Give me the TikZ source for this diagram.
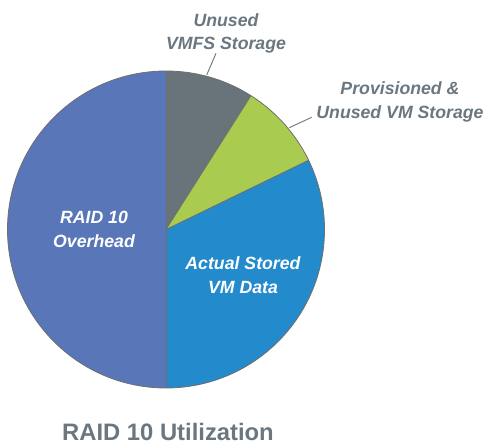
\documentclass[tikz,border=0pt]{standalone}
\usepackage{fontspec}
\setmainfont{Liberation Sans}
\newfontfamily\labelbi{Liberation Sans Bold Italic}
\newfontfamily\titleb{Liberation Sans Bold}
\definecolor{overhead}{HTML}{5876B8}
\definecolor{vmfs}{HTML}{69737A}
\definecolor{provis}{HTML}{A9CB4F}
\definecolor{actual}{HTML}{238ACB}
\definecolor{edge}{HTML}{6E6E6E}
\definecolor{labelgray}{HTML}{6B7780}
\tikzset{
  slice/.style={draw=edge, line width=0.8pt, line join=round},
  outlabel/.style={align=center, text=labelgray, font=\fontsize{17.7}{23.5}\labelbi, inner sep=0pt},
  inlabel/.style={align=center, text=white, font=\fontsize{17.7}{23.5}\labelbi, inner sep=0pt},
  leader/.style={draw=labelgray, line width=0.9pt}
}
\begin{document}
\begin{tikzpicture}[x=1pt,y=1pt]
\useasboundingbox (0,0) rectangle (485,444);
\coordinate (c) at (166,214.5);
\def\R{158.5}
% pie slices
\fill[overhead] (c) -- ++(90:\R) arc[start angle=90, end angle=270, radius=\R] -- cycle;
\fill[vmfs] (c) -- ++(57.6:\R) arc[start angle=57.6, end angle=90, radius=\R] -- cycle;
\fill[provis] (c) -- ++(25.9:\R) arc[start angle=25.9, end angle=57.6, radius=\R] -- cycle;
\fill[actual] (c) -- ++(-90:\R) arc[start angle=-90, end angle=25.9, radius=\R] -- cycle;
% slice borders
\draw[slice] (c) circle[radius=\R];
\draw[slice] (c) -- ++(90:\R);
\draw[slice] (c) -- ++(-90:\R);
\draw[slice] (c) -- ++(57.6:\R);
\draw[slice] (c) -- ++(25.9:\R);
% labels
\node[inlabel] (ovh) at (94,214.5) {RAID 10\\Overhead};
\node[inlabel] (act) at (243,169) {Actual Stored\\VM Data};
\node[outlabel] (unv) at (226,410.6) {Unused\\VMFS Storage};
\node[outlabel] (prv) at (400,342) {Provisioned \&\\Unused VM Storage};
% leader lines
\coordinate (g1) at (206.7,369);
\coordinate (g2) at (216,390.7);
\coordinate (p1) at (289.3,316.3);
\coordinate (p2) at (311.7,326.7);
\draw[leader] (g1) -- (g2);
\draw[leader] (p1) -- (p2);
% title
\node[text=labelgray, font=\fontsize{23.8}{28}\titleb, inner sep=0pt, anchor=base] (title) at (168,3.5) {RAID 10 Utilization};
\end{tikzpicture}
\end{document}
